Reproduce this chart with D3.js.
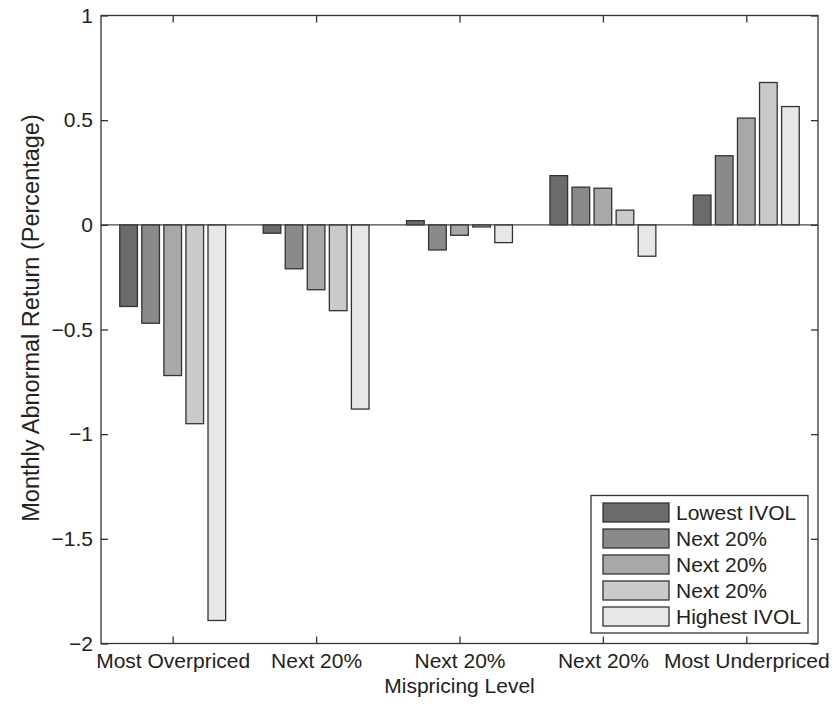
<!DOCTYPE html>
<html><head><meta charset="utf-8">
<script src="https://cdn.jsdelivr.net/npm/d3@7"></script>
<style>body{margin:0;background:#fff}svg{display:block}text{font-family:"Liberation Sans",Arial,Helvetica,sans-serif}</style>
</head><body><svg id="c" width="838" height="704"></svg>
<script>
const categories = ["Most Overpriced","Next 20%","Next 20%","Next 20%","Most Underpriced"];
const seriesNames = ["Lowest IVOL","Next 20%","Next 20%","Next 20%","Highest IVOL"];
const lowestIVOL  = [-0.39, -0.04,  0.02,  0.235, 0.142];
const next20a     = [-0.47, -0.21, -0.12,  0.18,  0.33];
const next20b     = [-0.72, -0.31, -0.05,  0.175, 0.51];
const next20c     = [-0.95, -0.41, -0.01,  0.07,  0.68];
const highestIVOL = [-1.89, -0.88, -0.085, -0.15, 0.565];
const colors = ["#6b6b6b","#8a8a8a","#a7a8aa","#c9cacc","#e6e7e8"];
const yTicks = [1, 0.5, 0, -0.5, -1, -1.5, -2];
const series = [lowestIVOL, next20a, next20b, next20c, highestIVOL];

const svg = d3.select("#c");
const L = 101, R = 818, T = 15.5, B = 643.5;
const x = d3.scaleLinear().domain([0.5, 5.5]).range([L, R]);
const y = d3.scaleLinear().domain([-2, 1]).range([B, T]);
const axisColor = "#333";
const fs = 21;

// bars
const groupW = Math.min(0.8, 5 / (5 + 1.5));
const slot = groupW / 5;
series.forEach((vals, si) => {
  svg.append("g").selectAll("rect").data(vals).join("rect")
    .attr("x", (d, i) => x(i + 1 - groupW / 2 + slot * si + slot * 0.1))
    .attr("width", x(slot * 0.8) - x(0))
    .attr("y", d => y(Math.max(0, d)))
    .attr("height", d => Math.abs(y(d) - y(0)))
    .attr("fill", colors[si])
    .attr("stroke", "#333").attr("stroke-width", 1.3);
});

// zero line
svg.append("line").attr("x1", L).attr("x2", R).attr("y1", y(0)).attr("y2", y(0))
  .attr("stroke", "#444").attr("stroke-width", 1.2);

// frame
svg.append("rect").attr("x", L).attr("y", T).attr("width", R - L).attr("height", B - T)
  .attr("fill", "none").attr("stroke", axisColor).attr("stroke-width", 1.3);

// axes with inward ticks
const fmt = d => (d < 0 ? "\u2212" + Math.abs(d) : String(d));
const yl = svg.append("g").attr("transform", `translate(${L},0)`)
  .call(d3.axisLeft(y).tickValues(yTicks).tickSize(-7).tickPadding(8).tickFormat(fmt));
const yr = svg.append("g").attr("transform", `translate(${R},0)`)
  .call(d3.axisRight(y).tickValues(yTicks).tickSize(-7).tickFormat(""));
const xb = svg.append("g").attr("transform", `translate(0,${B})`)
  .call(d3.axisBottom(x).tickValues([1,2,3,4,5]).tickSize(-7).tickPadding(10).tickFormat((d) => categories[d - 1]));
const xt = svg.append("g").attr("transform", `translate(0,${T})`)
  .call(d3.axisTop(x).tickValues([1,2,3,4,5]).tickSize(-7).tickFormat(""));
[yl, yr, xb, xt].forEach(g => {
  g.attr("font-family", null).attr("font-size", null);
  g.select(".domain").remove();
  g.selectAll(".tick line").attr("stroke", axisColor).attr("stroke-width", 1.3);
  g.selectAll("text").attr("font-size", fs).attr("fill", "#222");
});

// axis labels
svg.append("text").attr("x", x(3)).attr("y", 693).attr("text-anchor", "middle")
  .attr("font-size", fs).attr("fill", "#222").text("Mispricing Level");
svg.append("text").attr("transform", `translate(39,318) rotate(-90)`)
  .attr("text-anchor", "middle").attr("font-size", 23.5).attr("fill", "#222")
  .text("Monthly Abnormal Return (Percentage)");

// legend
const lg = svg.append("g");
lg.append("rect").attr("x", 591).attr("y", 495.5).attr("width", 217).attr("height", 137.5)
  .attr("fill", "#fff").attr("stroke", axisColor).attr("stroke-width", 1.3);
seriesNames.forEach((n, i) => {
  const yy = 503 + i * 26;
  lg.append("rect").attr("x", 603).attr("y", yy).attr("width", 66).attr("height", 19)
    .attr("fill", colors[i]).attr("stroke", "#333").attr("stroke-width", 1.3);
  lg.append("text").attr("x", 676).attr("y", yy + 17).attr("font-size", fs)
    .attr("fill", "#222").text(n);
});
</script></body></html>
